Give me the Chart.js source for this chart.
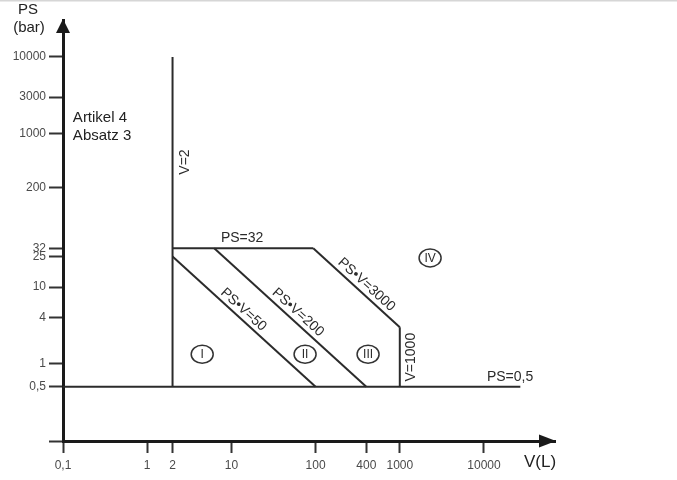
<!DOCTYPE html>
<html><head><meta charset="utf-8">
<script src="https://cdn.jsdelivr.net/npm/chart.js@4/dist/chart.umd.min.js"></script>
<style>html,body{margin:0;padding:0;background:#fff;}#wrap{width:677px;height:480px;position:relative;}</style>
</head><body><div id="wrap"><canvas id="c" width="677" height="480"></canvas></div>
<script>
// Tick values and labels
const xTickValues = [0.1, 1, 2, 10, 100, 400, 1000, 10000];
const xTickLabels = ['0,1', '1', '2', '10', '100', '400', '1000', '10000'];
const yTickValues = [0.5, 1, 4, 10, 25, 32, 200, 1000, 3000, 10000];
const yTickLabels = ['0,5', '1', '4', '10', '25', '32', '200', '1000', '3000', '10000'];

// Boundary lines (V in litres, PS in bar)
const lineV2_V = [2, 2];            const lineV2_PS = [0.5, 10000];
const linePS32_V = [2, 93.75];      const linePS32_PS = [32, 32];
const linePSV3000_V = [93.75, 1000]; const linePSV3000_PS = [32, 3];
const lineV1000_V = [1000, 1000];   const lineV1000_PS = [3, 0.5];
const linePSV50_V = [2, 100];       const linePSV50_PS = [25, 0.5];
const linePSV200_V = [6.25, 400];   const linePSV200_PS = [32, 0.5];
const linePS05_V = [0.1, 27000];    const linePS05_PS = [0.5, 0.5];

// Category markers (V, PS)
const categoryNames = ['I', 'II', 'III', 'IV'];
const categoryV = [4.5, 75, 420, 2290];
const categoryPS = [1.33, 1.33, 1.33, 24];

const X_MIN = 0.1, X_MAX = 69700, Y_MIN = 0.0984, Y_MAX = 30350;

function pts(vs, ps) { return vs.map((v, i) => ({x: v, y: ps[i]})); }
function ds(vs, ps) {
  return {data: pts(vs, ps), showLine: true, borderColor: '#2b2b2b', borderWidth: 2,
          pointRadius: 0, fill: false, tension: 0};
}

const FONT = '"Liberation Sans", Arial, sans-serif';

const annotPlugin = {
  id: 'annot',
  afterDraw(chart) {
    const ctx = chart.ctx, xs = chart.scales.x, ys = chart.scales.y, ca = chart.chartArea;
    const px = v => xs.getPixelForValue(v), py = v => ys.getPixelForValue(v);
    ctx.save();
    // faint top border
    ctx.fillStyle = '#d6d6d6';
    ctx.fillRect(0, 0, 677, 1.5);
    // axis arrows
    ctx.fillStyle = '#1a1a1a';
    ctx.beginPath();
    ctx.moveTo(ca.left, ca.top - 1); ctx.lineTo(ca.left - 7, ca.top + 13); ctx.lineTo(ca.left + 7, ca.top + 13);
    ctx.closePath(); ctx.fill();
    ctx.beginPath();
    ctx.moveTo(ca.right + 1, ca.bottom); ctx.lineTo(ca.right - 16, ca.bottom - 6.5); ctx.lineTo(ca.right - 16, ca.bottom + 6.5);
    ctx.closePath(); ctx.fill();

    // axis titles
    ctx.fillStyle = '#222';
    ctx.textAlign = 'center'; ctx.textBaseline = 'alphabetic';
    ctx.font = '15px ' + FONT;
    ctx.fillText('PS', 28, 14);
    ctx.fillText('(bar)', 29, 32);
    ctx.font = '17px ' + FONT;
    ctx.fillText('V(L)', 540, 467);

    // Artikel 4 Absatz 3
    ctx.textAlign = 'left';
    ctx.font = '15px ' + FONT;
    ctx.fillText('Artikel 4', px(0.131), py(1422));
    ctx.fillText('Absatz 3', px(0.131), py(828));

    ctx.fillStyle = '#2b2b2b';
    ctx.font = '14px ' + FONT;
    ctx.textAlign = 'center'; ctx.textBaseline = 'middle';
    ctx.fillText('PS=32', px(13.4), py(32) - 10);
    ctx.fillText('PS=0,5', px(20400), py(0.5) - 10);

    // vertical labels
    function vtext(t, x, y) {
      ctx.save(); ctx.translate(x, y); ctx.rotate(-Math.PI / 2);
      ctx.fillText(t, 0, 0); ctx.restore();
    }
    vtext('V=2', px(2) + 13, py(427));
    vtext('V=1000', px(1000) + 11, py(1.22));

    // sloped labels
    function stext(t, vsArr, psArr, footV, footPS, off) {
      const x1 = px(vsArr[0]), y1 = py(psArr[0]), x2 = px(vsArr[1]), y2 = py(psArr[1]);
      const ang = Math.atan2(y2 - y1, x2 - x1);
      const nx = Math.sin(ang), ny = -Math.cos(ang);
      const cx = px(footV) + nx * off, cy = py(footPS) + ny * off;
      ctx.save(); ctx.translate(cx, cy); ctx.rotate(ang);
      ctx.fillText(t, 0, 0); ctx.restore();
    }
    stext('PS\u2022V=50', linePSV50_V, linePSV50_PS, 11.9, 4.2, 8.5);
    stext('PS\u2022V=200', linePSV200_V, linePSV200_PS, 52.3, 3.82, 9);
    stext('PS\u2022V=3000', linePSV3000_V, linePSV3000_PS, 341, 8.8, 9);

    // category circles
    ctx.strokeStyle = '#333'; ctx.lineWidth = 1.5;
    ctx.font = '12px ' + FONT;
    categoryNames.forEach((n, i) => {
      const cx = px(categoryV[i]), cy = py(categoryPS[i]);
      ctx.beginPath(); ctx.ellipse(cx, cy, 11, 9, 0, 0, Math.PI * 2); ctx.stroke();
      ctx.fillText(n, cx, cy + 0.5);
    });
    ctx.restore();
  }
};

new Chart(document.getElementById('c'), {
  type: 'scatter',
  data: {datasets: [
    ds(lineV2_V, lineV2_PS), ds(linePS32_V, linePS32_PS), ds(linePSV3000_V, linePSV3000_PS),
    ds(lineV1000_V, lineV1000_PS), ds(linePSV50_V, linePSV50_PS), ds(linePSV200_V, linePSV200_PS),
    ds(linePS05_V, linePS05_PS)
  ]},
  options: {
    responsive: false, animation: false, devicePixelRatio: 1,
    layout: {padding: {top: 20, right: 122, left: 0, bottom: 0}},
    plugins: {legend: {display: false}, tooltip: {enabled: false}},
    scales: {
      x: {
        type: 'logarithmic', position: 'bottom', min: X_MIN, max: X_MAX,
        afterFit: s => { s.height = 39; },
        afterBuildTicks: s => { s.ticks = xTickValues.map(v => ({value: v})); },
        grid: {drawOnChartArea: false, drawTicks: true, tickLength: 12, tickWidth: 2, tickColor: '#333'},
        border: {display: true, color: '#1a1a1a', width: 3},
        ticks: {autoSkip: false, maxRotation: 0, padding: 5, color: '#4a4a4a',
                font: {family: FONT, size: 12},
                callback: v => { const i = xTickValues.indexOf(v); return i >= 0 ? xTickLabels[i] : ''; }}
      },
      y: {
        type: 'logarithmic', position: 'left', min: Y_MIN, max: Y_MAX,
        afterFit: s => { s.width = 63; },
        afterBuildTicks: s => { s.ticks = [{value: Y_MIN}].concat(yTickValues.map(v => ({value: v}))); },
        grid: {drawOnChartArea: false, drawTicks: true, tickLength: 14, tickWidth: 2, tickColor: '#333'},
        border: {display: true, color: '#1a1a1a', width: 3},
        ticks: {autoSkip: false, padding: 3, color: '#4a4a4a',
                font: {family: FONT, size: 12},
                callback: v => { const i = yTickValues.indexOf(v); return i >= 0 ? yTickLabels[i] : ''; }}
      }
    }
  },
  plugins: [annotPlugin]
});
</script></body></html>
